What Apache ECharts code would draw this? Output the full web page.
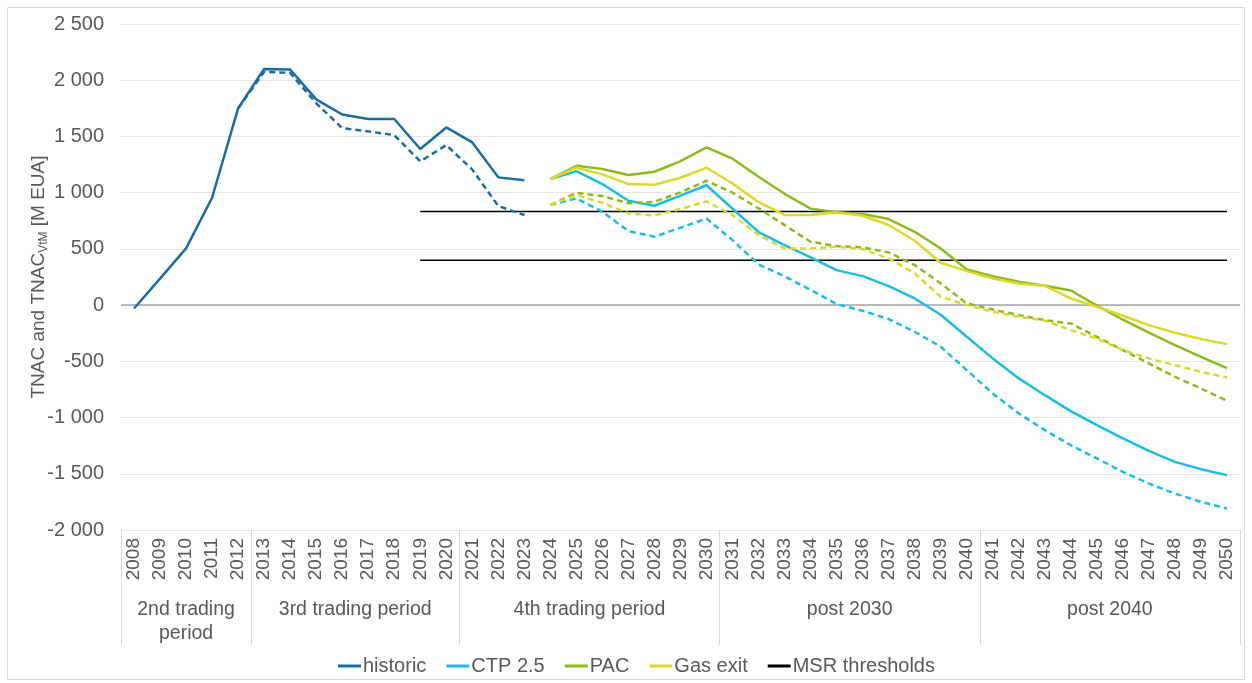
<!DOCTYPE html>
<html>
<head>
<meta charset="utf-8">
<script src="https://cdn.jsdelivr.net/npm/echarts@6.0.0/dist/echarts.min.js"></script>
<style>
  html, body { margin: 0; padding: 0; background: #fff; }
  #chart { width: 1252px; height: 683px; }
</style>
</head>
<body>
<div id="chart"></div>
<script>
// years on the category axis
const years = [
  "2008", "2009", "2010", "2011", "2012", "2013", "2014", "2015", "2016", "2017",
  "2018", "2019", "2020", "2021", "2022", "2023", "2024", "2025", "2026", "2027",
  "2028", "2029", "2030", "2031", "2032", "2033", "2034", "2035", "2036", "2037",
  "2038", "2039", "2040", "2041", "2042", "2043", "2044", "2045", "2046", "2047",
  "2048", "2049", "2050"
];

// period groups below the years: [first index, last index + 1]
const periodNames = ["2nd trading\nperiod", "3rd trading period", "4th trading period", "post 2030", "post 2040"];
const periodEdges = [0, 5, 13, 23, 33, 43];

// TNAC (solid) and TNAC VtM (dashed), M EUA
const historic = [-30, 235, 505, 955, 1750, 2100, 2095, 1830, 1695, 1655, 1655, 1388, 1580, 1447, 1136, 1110];
const historicVtm = [null, null, null, null, 1750, 2075, 2065, 1795, 1575, 1545, 1512, 1278, 1423, 1205, 881, 801];

// scenarios, 2024-2050
const ctp = [1121, 1192, 1076, 928, 884, 973, 1066, 857, 650, 534, 425, 311, 258, 169, 59, -86, -282,
  -474, -652, -801, -943, -1068, -1186, -1296, -1394, -1459, -1512];
const ctpVtm = [890, 949, 830, 658, 608, 688, 770, 578, 362, 255, 135, 10, -50, -125, -237, -370, -578,
  -786, -964, -1112, -1246, -1364, -1483, -1587, -1676, -1750, -1809];
const pac = [1121, 1239, 1210, 1157, 1186, 1281, 1403, 1302, 1142, 990, 858, 825, 810, 765, 652, 504, 317,
  258, 208, 172, 130, -5, -130, -245, -355, -460, -560];
const pacVtm = [890, 999, 970, 905, 919, 1002, 1106, 1000, 860, 712, 563, 525, 513, 469, 356, 193, 15,
  -39, -89, -133, -163, -282, -400, -519, -638, -741, -851];
const gasExit = [1121, 1222, 1163, 1076, 1070, 1133, 1222, 1082, 916, 802, 802, 824, 795, 712, 572, 377, 302,
  237, 193, 170, 59, -15, -95, -178, -246, -302, -347];
const gasExitVtm = [890, 979, 910, 816, 798, 854, 922, 801, 623, 504, 504, 519, 498, 415, 282, 74, 0,
  -59, -104, -138, -222, -297, -400, -474, -534, -593, -644];

// MSR thresholds, applied from 2019
const msrUpper = 833;
const msrLower = 400;
const msrStart = "2019";

const textColor = "#595959";
const font = "Liberation Sans, Arial, sans-serif";

// pad a series to the full year list
const fromYear = (start, vals) => {
  const i0 = years.indexOf(start);
  return years.map((y, i) => (i >= i0 && i - i0 < vals.length ? vals[i - i0] : null));
};
const constFrom = (start, v) => {
  const i0 = years.indexOf(start);
  return years.map((y, i) => (i >= i0 ? v : null));
};

const line = (name, data, color, dashed, extra) =>
  Object.assign(
    {
      name,
      type: "line",
      data,
      symbol: "none",
      connectNulls: false,
      lineStyle: { color, width: 2.5, type: dashed ? [6, 4] : "solid" },
      itemStyle: { color },
      z: 3,
    },
    extra || {}
  );

const chart = echarts.init(document.getElementById("chart"));

const option = {
  animation: false,
  textStyle: { fontFamily: font },
  grid: { left: 121, right: 12, top: 24, bottom: 153 },
  legend: {
    data: ["historic", "CTP 2.5", "PAC", "Gas exit", "MSR thresholds"],
    bottom: 2,
    left: 333,
    icon: "rect",
    itemWidth: 23,
    itemHeight: 3,
    itemGap: 20,
    textStyle: { color: textColor, fontSize: 20, fontFamily: font, padding: [0, 0, 0, -3] },
  },
  graphic: [
    {
      type: "rect",
      shape: { x: 7.5, y: 7.5, width: 1237, height: 672 },
      style: { fill: "none", stroke: "#d9d9d9", lineWidth: 1 },
      silent: true,
    },
  ],
  xAxis: [
    {
      type: "category",
      data: years,
      boundaryGap: true,
      axisLine: { show: true, lineStyle: { color: "#d9d9d9" } },
      axisTick: { show: false },
      axisLabel: {
        rotate: 90,
        interval: 0,
        margin: 8,
        color: textColor,
        fontSize: 19,
        fontFamily: font,
      },
      splitLine: { show: false },
    },
    {
      type: "value",
      min: 0,
      max: 43,
      position: "bottom",
      axisLine: { show: false },
      axisTick: {
        show: true,
        customValues: periodEdges,
        length: 115,
        lineStyle: { color: "#d9d9d9" },
      },
      axisLabel: {
        customValues: periodEdges.slice(0, -1).map((e, i) => (e + periodEdges[i + 1]) / 2),
        formatter: (v) => {
          const i = periodEdges.findIndex((e, k) => (e + periodEdges[k + 1]) / 2 === v);
          return periodNames[i] || "";
        },
        margin: 68,
        color: textColor,
        fontSize: 19.5,
        lineHeight: 24,
        fontFamily: font,
      },
      splitLine: { show: false },
    },
  ],
  yAxis: {
    type: "value",
    min: -2000,
    max: 2500,
    interval: 500,
    name: "TNAC and TNAC{s|VtM} [M EUA]",
    nameLocation: "middle",
    nameGap: 71,
    nameMoveOverlap: false,
    nameTextStyle: {
      color: textColor,
      fontSize: 19,
      fontFamily: font,
      rich: {
        s: { fontSize: 12, color: textColor, fontFamily: font, verticalAlign: "bottom", lineHeight: 22 },
      },
    },
    axisLine: { show: false },
    axisTick: { show: false },
    axisLabel: {
      margin: 17,
      color: textColor,
      fontSize: 20,
      fontFamily: font,
      formatter: (v) => String(v).replace(/\B(?=(\d{3})+(?!\d))/g, " "),
    },
    splitLine: { lineStyle: { color: "#e6e6e6", width: 1 } },
  },
  series: [
    line("historic", fromYear("2008", historic), "#1a6ca3", false, {
      markLine: {
        silent: true,
        symbol: "none",
        label: { show: false },
        lineStyle: { color: "#a6a6a6", width: 1.5, type: "solid" },
        data: [{ yAxis: 0 }],
        z: 1,
      },
    }),
    line("historic VtM", fromYear("2008", historicVtm), "#1a6ca3", true),
    line("CTP 2.5", fromYear("2024", ctp), "#1bbde4", false),
    line("CTP 2.5 VtM", fromYear("2024", ctpVtm), "#1bbde4", true),
    line("PAC", fromYear("2024", pac), "#8dbb1e", false),
    line("PAC VtM", fromYear("2024", pacVtm), "#8dbb1e", true),
    line("Gas exit", fromYear("2024", gasExit), "#dcd92b", false),
    line("Gas exit VtM", fromYear("2024", gasExitVtm), "#dcd92b", true),
    line("MSR thresholds", constFrom(msrStart, msrUpper), "#000000", false, { lineStyle: { color: "#000", width: 1.5 }, z: 2 }),
    line("MSR thresholds", constFrom(msrStart, msrLower), "#000000", false, { lineStyle: { color: "#000", width: 1.5 }, z: 2 }),
  ],
};

chart.setOption(option);
window.addEventListener("resize", () => chart.resize());
</script>
</body>
</html>
